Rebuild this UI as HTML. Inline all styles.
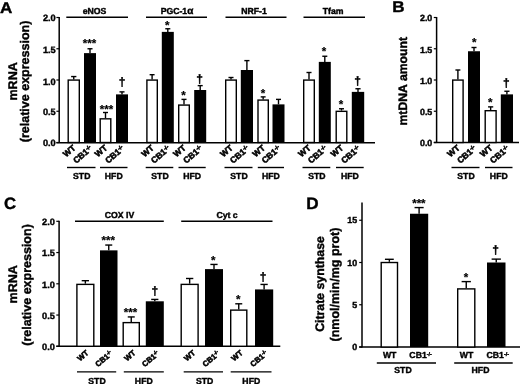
<!DOCTYPE html>
<html><head><meta charset="utf-8"><title>Figure</title>
<style>
html,body{margin:0;padding:0;background:#fff;}
body{width:520px;height:384px;overflow:hidden;}
svg{display:block;}
text{font-family:"Liberation Sans", Arial, sans-serif;font-weight:bold;fill:#000;stroke:#000;stroke-width:0.4px;text-rendering:geometricPrecision;}
text.rl{stroke-width:0.55px;}
text.st{stroke-width:0.2px;}
</style></head><body>
<svg width="520" height="384" viewBox="0 0 520 384">
<rect width="520" height="384" fill="#fff"/>
<text transform="translate(0,12.6) scale(1.1,1)" font-size="15.5" text-anchor="start">A</text>
<line x1="59.20" y1="17.00" x2="59.20" y2="143.00" stroke="#000" stroke-width="1.5"/>
<line x1="56.40" y1="17.50" x2="59.20" y2="17.50" stroke="#000" stroke-width="1.2"/>
<text x="55.70" y="20.71" font-size="9.2" text-anchor="end">2.0</text>
<line x1="56.40" y1="48.75" x2="59.20" y2="48.75" stroke="#000" stroke-width="1.2"/>
<text x="55.70" y="53.01" font-size="9.2" text-anchor="end">1.5</text>
<line x1="56.40" y1="80.00" x2="59.20" y2="80.00" stroke="#000" stroke-width="1.2"/>
<text x="55.70" y="84.51" font-size="9.2" text-anchor="end">1.0</text>
<line x1="56.40" y1="111.25" x2="59.20" y2="111.25" stroke="#000" stroke-width="1.2"/>
<text x="55.70" y="115.21" font-size="9.2" text-anchor="end">0.5</text>
<line x1="56.40" y1="142.50" x2="59.20" y2="142.50" stroke="#000" stroke-width="1.2"/>
<text x="55.70" y="146.21" font-size="9.2" text-anchor="end">0.0</text>
<line x1="56.40" y1="142.70" x2="375.00" y2="142.70" stroke="#000" stroke-width="1.5"/>
<text x="17.20" y="81.40" font-size="12.5" text-anchor="middle" transform="rotate(-90 17.20 81.40)">mRNA</text>
<text x="29.50" y="81.40" font-size="12.5" text-anchor="middle" transform="rotate(-90 29.50 81.40)">(relative expression)</text>
<line x1="66.30" y1="17.20" x2="128.00" y2="17.20" stroke="#000" stroke-width="1.4"/>
<text x="94.60" y="14.20" font-size="8.7" text-anchor="middle">eNOS</text>
<line x1="73.75" y1="79.38" x2="73.75" y2="76.56" stroke="#000" stroke-width="1.4"/>
<line x1="71.12" y1="76.56" x2="76.38" y2="76.56" stroke="#000" stroke-width="1.4"/>
<rect x="68.20" y="80.08" width="11.10" height="62.42" fill="#fff" stroke="#000" stroke-width="1.4"/>
<line x1="90.00" y1="53.12" x2="90.00" y2="48.75" stroke="#000" stroke-width="1.4"/>
<line x1="87.48" y1="48.75" x2="92.52" y2="48.75" stroke="#000" stroke-width="1.4"/>
<rect x="84.00" y="53.12" width="12.00" height="89.38" fill="#000"/>
<text x="89.50" y="47.35" font-size="11.5" text-anchor="middle" class="st">***</text>
<line x1="105.50" y1="118.12" x2="105.50" y2="112.50" stroke="#000" stroke-width="1.4"/>
<line x1="102.98" y1="112.50" x2="108.02" y2="112.50" stroke="#000" stroke-width="1.4"/>
<rect x="100.20" y="118.83" width="10.60" height="23.68" fill="#fff" stroke="#000" stroke-width="1.4"/>
<text x="106.50" y="112.60" font-size="11.5" text-anchor="middle" class="st">***</text>
<line x1="122.00" y1="94.38" x2="122.00" y2="91.88" stroke="#000" stroke-width="1.4"/>
<line x1="119.48" y1="91.88" x2="124.52" y2="91.88" stroke="#000" stroke-width="1.4"/>
<rect x="116.00" y="94.38" width="12.00" height="48.12" fill="#000"/>
<text x="122.00" y="86.38" font-size="12" text-anchor="middle">†</text>
<text x="76.25" y="149.00" font-size="8.5" text-anchor="end" class="rl" transform="rotate(-40 76.25 149.00)">WT</text>
<text x="93.00" y="149.50" font-size="8.5" text-anchor="end" class="rl" transform="rotate(-40 93.00 149.50)">CB1<tspan font-size="62%" dy="-2.8">-/-</tspan></text>
<text x="108.00" y="149.00" font-size="8.5" text-anchor="end" class="rl" transform="rotate(-40 108.00 149.00)">WT</text>
<text x="125.00" y="149.50" font-size="8.5" text-anchor="end" class="rl" transform="rotate(-40 125.00 149.50)">CB1<tspan font-size="62%" dy="-2.8">-/-</tspan></text>
<line x1="67.00" y1="167.50" x2="95.50" y2="167.50" stroke="#000" stroke-width="1.4"/>
<line x1="100.00" y1="167.50" x2="127.50" y2="167.50" stroke="#000" stroke-width="1.4"/>
<text x="81.75" y="179.30" font-size="8.7" text-anchor="middle">STD</text>
<text x="113.75" y="179.30" font-size="8.7" text-anchor="middle">HFD</text>
<line x1="146.00" y1="17.20" x2="207.00" y2="17.20" stroke="#000" stroke-width="1.4"/>
<text x="177.00" y="14.20" font-size="8.7" text-anchor="middle">PGC-1<tspan font-size="115%">α</tspan></text>
<line x1="152.10" y1="79.38" x2="152.10" y2="74.69" stroke="#000" stroke-width="1.4"/>
<line x1="149.62" y1="74.69" x2="154.58" y2="74.69" stroke="#000" stroke-width="1.4"/>
<rect x="146.90" y="80.08" width="10.40" height="62.42" fill="#fff" stroke="#000" stroke-width="1.4"/>
<line x1="167.80" y1="31.88" x2="167.80" y2="28.75" stroke="#000" stroke-width="1.4"/>
<line x1="165.28" y1="28.75" x2="170.32" y2="28.75" stroke="#000" stroke-width="1.4"/>
<rect x="161.80" y="31.88" width="12.00" height="110.62" fill="#000"/>
<text x="167.30" y="29.35" font-size="11.5" text-anchor="middle" class="st">*</text>
<line x1="184.00" y1="104.38" x2="184.00" y2="99.38" stroke="#000" stroke-width="1.4"/>
<line x1="181.48" y1="99.38" x2="186.52" y2="99.38" stroke="#000" stroke-width="1.4"/>
<rect x="178.70" y="105.08" width="10.60" height="37.42" fill="#fff" stroke="#000" stroke-width="1.4"/>
<text x="183.50" y="98.97" font-size="11.5" text-anchor="middle" class="st">*</text>
<line x1="200.20" y1="90.00" x2="200.20" y2="85.62" stroke="#000" stroke-width="1.4"/>
<line x1="197.68" y1="85.62" x2="202.72" y2="85.62" stroke="#000" stroke-width="1.4"/>
<rect x="194.20" y="90.00" width="12.00" height="52.50" fill="#000"/>
<text x="199.70" y="82.92" font-size="12" text-anchor="middle">†</text>
<text x="154.60" y="149.00" font-size="8.5" text-anchor="end" class="rl" transform="rotate(-40 154.60 149.00)">WT</text>
<text x="170.80" y="149.50" font-size="8.5" text-anchor="end" class="rl" transform="rotate(-40 170.80 149.50)">CB1<tspan font-size="62%" dy="-2.8">-/-</tspan></text>
<text x="186.50" y="149.00" font-size="8.5" text-anchor="end" class="rl" transform="rotate(-40 186.50 149.00)">WT</text>
<text x="203.20" y="149.50" font-size="8.5" text-anchor="end" class="rl" transform="rotate(-40 203.20 149.50)">CB1<tspan font-size="62%" dy="-2.8">-/-</tspan></text>
<line x1="145.70" y1="167.50" x2="173.30" y2="167.50" stroke="#000" stroke-width="1.4"/>
<line x1="178.50" y1="167.50" x2="205.70" y2="167.50" stroke="#000" stroke-width="1.4"/>
<text x="160.00" y="179.30" font-size="8.7" text-anchor="middle">STD</text>
<text x="192.10" y="179.30" font-size="8.7" text-anchor="middle">HFD</text>
<line x1="225.50" y1="17.20" x2="286.50" y2="17.20" stroke="#000" stroke-width="1.4"/>
<text x="254.00" y="14.20" font-size="8.7" text-anchor="middle">NRF-1</text>
<line x1="231.00" y1="79.38" x2="231.00" y2="77.50" stroke="#000" stroke-width="1.4"/>
<line x1="228.48" y1="77.50" x2="233.52" y2="77.50" stroke="#000" stroke-width="1.4"/>
<rect x="225.70" y="80.08" width="10.60" height="62.42" fill="#fff" stroke="#000" stroke-width="1.4"/>
<line x1="246.90" y1="70.00" x2="246.90" y2="60.62" stroke="#000" stroke-width="1.4"/>
<line x1="244.34" y1="60.62" x2="249.46" y2="60.62" stroke="#000" stroke-width="1.4"/>
<rect x="240.80" y="70.00" width="12.20" height="72.50" fill="#000"/>
<line x1="263.15" y1="99.38" x2="263.15" y2="96.88" stroke="#000" stroke-width="1.4"/>
<line x1="260.69" y1="96.88" x2="265.61" y2="96.88" stroke="#000" stroke-width="1.4"/>
<rect x="258.00" y="100.08" width="10.30" height="42.42" fill="#fff" stroke="#000" stroke-width="1.4"/>
<text x="262.95" y="96.97" font-size="11.5" text-anchor="middle" class="st">*</text>
<line x1="278.50" y1="104.38" x2="278.50" y2="99.38" stroke="#000" stroke-width="1.4"/>
<line x1="275.98" y1="99.38" x2="281.02" y2="99.38" stroke="#000" stroke-width="1.4"/>
<rect x="272.50" y="104.38" width="12.00" height="38.12" fill="#000"/>
<text x="233.50" y="149.00" font-size="8.5" text-anchor="end" class="rl" transform="rotate(-40 233.50 149.00)">WT</text>
<text x="249.90" y="149.50" font-size="8.5" text-anchor="end" class="rl" transform="rotate(-40 249.90 149.50)">CB1<tspan font-size="62%" dy="-2.8">-/-</tspan></text>
<text x="265.65" y="149.00" font-size="8.5" text-anchor="end" class="rl" transform="rotate(-40 265.65 149.00)">WT</text>
<text x="281.50" y="149.50" font-size="8.5" text-anchor="end" class="rl" transform="rotate(-40 281.50 149.50)">CB1<tspan font-size="62%" dy="-2.8">-/-</tspan></text>
<line x1="224.50" y1="167.50" x2="252.50" y2="167.50" stroke="#000" stroke-width="1.4"/>
<line x1="257.80" y1="167.50" x2="284.00" y2="167.50" stroke="#000" stroke-width="1.4"/>
<text x="239.00" y="179.30" font-size="8.7" text-anchor="middle">STD</text>
<text x="270.90" y="179.30" font-size="8.7" text-anchor="middle">HFD</text>
<line x1="303.50" y1="17.20" x2="365.00" y2="17.20" stroke="#000" stroke-width="1.4"/>
<text x="333.20" y="14.20" font-size="8.7" text-anchor="middle">Tfam</text>
<line x1="309.00" y1="79.38" x2="309.00" y2="72.50" stroke="#000" stroke-width="1.4"/>
<line x1="306.48" y1="72.50" x2="311.52" y2="72.50" stroke="#000" stroke-width="1.4"/>
<rect x="303.70" y="80.08" width="10.60" height="62.42" fill="#fff" stroke="#000" stroke-width="1.4"/>
<line x1="324.80" y1="61.88" x2="324.80" y2="56.25" stroke="#000" stroke-width="1.4"/>
<line x1="322.28" y1="56.25" x2="327.32" y2="56.25" stroke="#000" stroke-width="1.4"/>
<rect x="318.80" y="61.88" width="12.00" height="80.62" fill="#000"/>
<text x="324.00" y="54.55" font-size="11.5" text-anchor="middle" class="st">*</text>
<line x1="341.50" y1="110.62" x2="341.50" y2="108.75" stroke="#000" stroke-width="1.4"/>
<line x1="338.98" y1="108.75" x2="344.02" y2="108.75" stroke="#000" stroke-width="1.4"/>
<rect x="336.20" y="111.33" width="10.60" height="31.18" fill="#fff" stroke="#000" stroke-width="1.4"/>
<text x="341.00" y="108.35" font-size="11.5" text-anchor="middle" class="st">*</text>
<line x1="358.00" y1="91.88" x2="358.00" y2="88.75" stroke="#000" stroke-width="1.4"/>
<line x1="355.40" y1="88.75" x2="360.60" y2="88.75" stroke="#000" stroke-width="1.4"/>
<rect x="351.80" y="91.88" width="12.40" height="50.62" fill="#000"/>
<text x="357.50" y="84.55" font-size="12" text-anchor="middle">†</text>
<text x="311.50" y="149.00" font-size="8.5" text-anchor="end" class="rl" transform="rotate(-40 311.50 149.00)">WT</text>
<text x="327.80" y="149.50" font-size="8.5" text-anchor="end" class="rl" transform="rotate(-40 327.80 149.50)">CB1<tspan font-size="62%" dy="-2.8">-/-</tspan></text>
<text x="344.00" y="149.00" font-size="8.5" text-anchor="end" class="rl" transform="rotate(-40 344.00 149.00)">WT</text>
<text x="361.00" y="149.50" font-size="8.5" text-anchor="end" class="rl" transform="rotate(-40 361.00 149.50)">CB1<tspan font-size="62%" dy="-2.8">-/-</tspan></text>
<line x1="302.50" y1="167.50" x2="330.30" y2="167.50" stroke="#000" stroke-width="1.4"/>
<line x1="336.00" y1="167.50" x2="363.70" y2="167.50" stroke="#000" stroke-width="1.4"/>
<text x="316.90" y="179.30" font-size="8.7" text-anchor="middle">STD</text>
<text x="349.85" y="179.30" font-size="8.7" text-anchor="middle">HFD</text>
<text transform="translate(392.3,12.3) scale(1.1,1)" font-size="15.5" text-anchor="start">B</text>
<line x1="436.60" y1="17.00" x2="436.60" y2="143.00" stroke="#000" stroke-width="1.5"/>
<line x1="433.80" y1="17.50" x2="436.60" y2="17.50" stroke="#000" stroke-width="1.2"/>
<text x="432.30" y="20.60" font-size="8.9" text-anchor="end">2.0</text>
<line x1="433.80" y1="48.75" x2="436.60" y2="48.75" stroke="#000" stroke-width="1.2"/>
<text x="432.30" y="52.90" font-size="8.9" text-anchor="end">1.5</text>
<line x1="433.80" y1="80.00" x2="436.60" y2="80.00" stroke="#000" stroke-width="1.2"/>
<text x="432.30" y="84.30" font-size="8.9" text-anchor="end">1.0</text>
<line x1="433.80" y1="111.25" x2="436.60" y2="111.25" stroke="#000" stroke-width="1.2"/>
<text x="432.30" y="115.10" font-size="8.9" text-anchor="end">0.5</text>
<line x1="433.80" y1="142.50" x2="436.60" y2="142.50" stroke="#000" stroke-width="1.2"/>
<text x="432.30" y="146.00" font-size="8.9" text-anchor="end">0.0</text>
<line x1="433.80" y1="142.50" x2="519.00" y2="142.50" stroke="#000" stroke-width="1.5"/>
<text x="407.50" y="81.20" font-size="12.25" text-anchor="middle" transform="rotate(-90 407.50 81.20)">mtDNA amount</text>
<line x1="457.90" y1="79.38" x2="457.90" y2="70.00" stroke="#000" stroke-width="1.4"/>
<line x1="455.42" y1="70.00" x2="460.38" y2="70.00" stroke="#000" stroke-width="1.4"/>
<rect x="452.70" y="80.08" width="10.40" height="62.42" fill="#fff" stroke="#000" stroke-width="1.4"/>
<line x1="474.00" y1="51.25" x2="474.00" y2="47.50" stroke="#000" stroke-width="1.4"/>
<line x1="471.48" y1="47.50" x2="476.52" y2="47.50" stroke="#000" stroke-width="1.4"/>
<rect x="468.00" y="51.25" width="12.00" height="91.25" fill="#000"/>
<text x="474.20" y="46.40" font-size="11.5" text-anchor="middle" class="st">*</text>
<line x1="490.65" y1="110.00" x2="490.65" y2="106.88" stroke="#000" stroke-width="1.4"/>
<line x1="488.07" y1="106.88" x2="493.23" y2="106.88" stroke="#000" stroke-width="1.4"/>
<rect x="485.20" y="110.70" width="10.90" height="31.80" fill="#fff" stroke="#000" stroke-width="1.4"/>
<text x="490.15" y="106.47" font-size="11.5" text-anchor="middle" class="st">*</text>
<line x1="506.90" y1="94.38" x2="506.90" y2="91.25" stroke="#000" stroke-width="1.4"/>
<line x1="504.34" y1="91.25" x2="509.46" y2="91.25" stroke="#000" stroke-width="1.4"/>
<rect x="500.80" y="94.38" width="12.20" height="48.12" fill="#000"/>
<text x="506.40" y="87.35" font-size="12" text-anchor="middle">†</text>
<text x="460.40" y="149.00" font-size="8.5" text-anchor="end" class="rl" transform="rotate(-40 460.40 149.00)">WT</text>
<text x="477.00" y="149.50" font-size="8.5" text-anchor="end" class="rl" transform="rotate(-40 477.00 149.50)">CB1<tspan font-size="62%" dy="-2.8">-/-</tspan></text>
<text x="493.15" y="149.00" font-size="8.5" text-anchor="end" class="rl" transform="rotate(-40 493.15 149.00)">WT</text>
<text x="509.90" y="149.50" font-size="8.5" text-anchor="end" class="rl" transform="rotate(-40 509.90 149.50)">CB1<tspan font-size="62%" dy="-2.8">-/-</tspan></text>
<line x1="451.50" y1="167.50" x2="479.50" y2="167.50" stroke="#000" stroke-width="1.4"/>
<line x1="485.00" y1="167.50" x2="512.50" y2="167.50" stroke="#000" stroke-width="1.4"/>
<text x="466.00" y="179.30" font-size="8.7" text-anchor="middle">STD</text>
<text x="498.80" y="179.30" font-size="8.7" text-anchor="middle">HFD</text>
<text transform="translate(4.0,208.9) scale(1.02,1)" font-size="16.4" text-anchor="start">C</text>
<line x1="59.10" y1="220.80" x2="59.10" y2="346.80" stroke="#000" stroke-width="1.5"/>
<line x1="56.30" y1="221.30" x2="59.10" y2="221.30" stroke="#000" stroke-width="1.2"/>
<text x="54.80" y="224.61" font-size="9.2" text-anchor="end">2.0</text>
<line x1="56.30" y1="252.55" x2="59.10" y2="252.55" stroke="#000" stroke-width="1.2"/>
<text x="54.80" y="256.46" font-size="9.2" text-anchor="end">1.5</text>
<line x1="56.30" y1="283.80" x2="59.10" y2="283.80" stroke="#000" stroke-width="1.2"/>
<text x="54.80" y="287.81" font-size="9.2" text-anchor="end">1.0</text>
<line x1="56.30" y1="315.05" x2="59.10" y2="315.05" stroke="#000" stroke-width="1.2"/>
<text x="54.80" y="318.76" font-size="9.2" text-anchor="end">0.5</text>
<line x1="56.30" y1="346.30" x2="59.10" y2="346.30" stroke="#000" stroke-width="1.2"/>
<text x="54.80" y="350.41" font-size="9.2" text-anchor="end">0.0</text>
<line x1="56.30" y1="346.30" x2="280.30" y2="346.30" stroke="#000" stroke-width="1.5"/>
<text x="17.30" y="284.30" font-size="12.5" text-anchor="middle" transform="rotate(-90 17.30 284.30)">mRNA</text>
<text x="30.80" y="285.00" font-size="12.5" text-anchor="middle" transform="rotate(-90 30.80 285.00)">(relative expression)</text>
<line x1="75.00" y1="221.30" x2="163.80" y2="221.30" stroke="#000" stroke-width="1.4"/>
<text x="119.50" y="218.30" font-size="8.7" text-anchor="middle">COX IV</text>
<line x1="181.20" y1="221.30" x2="272.50" y2="221.30" stroke="#000" stroke-width="1.4"/>
<text x="227.00" y="218.30" font-size="8.7" text-anchor="middle">Cyt c</text>
<line x1="85.35" y1="283.68" x2="85.35" y2="280.68" stroke="#000" stroke-width="1.4"/>
<line x1="81.69" y1="280.68" x2="89.01" y2="280.68" stroke="#000" stroke-width="1.4"/>
<rect x="76.90" y="284.38" width="16.90" height="61.92" fill="#fff" stroke="#000" stroke-width="1.4"/>
<line x1="108.75" y1="250.36" x2="108.75" y2="245.05" stroke="#000" stroke-width="1.4"/>
<line x1="105.25" y1="245.05" x2="112.25" y2="245.05" stroke="#000" stroke-width="1.4"/>
<rect x="100.00" y="250.36" width="17.50" height="95.94" fill="#000"/>
<text x="108.25" y="243.65" font-size="11.5" text-anchor="middle" class="st">***</text>
<line x1="131.25" y1="321.93" x2="131.25" y2="316.93" stroke="#000" stroke-width="1.4"/>
<line x1="127.75" y1="316.93" x2="134.75" y2="316.93" stroke="#000" stroke-width="1.4"/>
<rect x="123.20" y="322.62" width="16.10" height="23.68" fill="#fff" stroke="#000" stroke-width="1.4"/>
<text x="130.45" y="316.43" font-size="11.5" text-anchor="middle" class="st">***</text>
<line x1="154.80" y1="301.30" x2="154.80" y2="299.43" stroke="#000" stroke-width="1.4"/>
<line x1="151.20" y1="299.43" x2="158.40" y2="299.43" stroke="#000" stroke-width="1.4"/>
<rect x="145.80" y="301.30" width="18.00" height="45.00" fill="#000"/>
<text x="154.80" y="294.73" font-size="12" text-anchor="middle">†</text>
<line x1="189.65" y1="283.68" x2="189.65" y2="278.49" stroke="#000" stroke-width="1.4"/>
<line x1="185.99" y1="278.49" x2="193.31" y2="278.49" stroke="#000" stroke-width="1.4"/>
<rect x="181.20" y="284.38" width="16.90" height="61.92" fill="#fff" stroke="#000" stroke-width="1.4"/>
<line x1="214.00" y1="269.11" x2="214.00" y2="264.43" stroke="#000" stroke-width="1.4"/>
<line x1="210.40" y1="264.43" x2="217.60" y2="264.43" stroke="#000" stroke-width="1.4"/>
<rect x="205.00" y="269.11" width="18.00" height="77.19" fill="#000"/>
<text x="213.20" y="264.23" font-size="11.5" text-anchor="middle" class="st">*</text>
<line x1="238.75" y1="309.43" x2="238.75" y2="303.80" stroke="#000" stroke-width="1.4"/>
<line x1="235.25" y1="303.80" x2="242.25" y2="303.80" stroke="#000" stroke-width="1.4"/>
<rect x="230.70" y="310.12" width="16.10" height="36.17" fill="#fff" stroke="#000" stroke-width="1.4"/>
<text x="238.25" y="302.70" font-size="11.5" text-anchor="middle" class="st">*</text>
<line x1="264.10" y1="289.43" x2="264.10" y2="284.43" stroke="#000" stroke-width="1.4"/>
<line x1="260.46" y1="284.43" x2="267.74" y2="284.43" stroke="#000" stroke-width="1.4"/>
<rect x="255.00" y="289.43" width="18.20" height="56.88" fill="#000"/>
<text x="263.10" y="281.23" font-size="12" text-anchor="middle">†</text>
<text x="89.15" y="353.80" font-size="7.7" text-anchor="end" class="rl" transform="rotate(-40 89.15 353.80)">WT</text>
<text x="113.15" y="354.40" font-size="7.7" text-anchor="end" class="rl" transform="rotate(-40 113.15 354.40)">CB1<tspan font-size="62%" dy="-2.8">-/-</tspan></text>
<text x="136.05" y="353.80" font-size="7.7" text-anchor="end" class="rl" transform="rotate(-40 136.05 353.80)">WT</text>
<text x="159.90" y="354.40" font-size="7.7" text-anchor="end" class="rl" transform="rotate(-40 159.90 354.40)">CB1<tspan font-size="62%" dy="-2.8">-/-</tspan></text>
<text x="195.95" y="353.80" font-size="7.7" text-anchor="end" class="rl" transform="rotate(-40 195.95 353.80)">WT</text>
<text x="220.40" y="354.40" font-size="7.7" text-anchor="end" class="rl" transform="rotate(-40 220.40 354.40)">CB1<tspan font-size="62%" dy="-2.8">-/-</tspan></text>
<text x="243.25" y="353.80" font-size="7.7" text-anchor="end" class="rl" transform="rotate(-40 243.25 353.80)">WT</text>
<text x="268.30" y="354.40" font-size="7.7" text-anchor="end" class="rl" transform="rotate(-40 268.30 354.40)">CB1<tspan font-size="62%" dy="-2.8">-/-</tspan></text>
<line x1="77.00" y1="371.90" x2="116.20" y2="371.90" stroke="#000" stroke-width="1.4"/>
<line x1="123.80" y1="371.90" x2="163.80" y2="371.90" stroke="#000" stroke-width="1.4"/>
<text x="97.00" y="384.00" font-size="8.7" text-anchor="middle">STD</text>
<text x="143.80" y="384.00" font-size="8.7" text-anchor="middle">HFD</text>
<line x1="183.70" y1="371.90" x2="223.00" y2="371.90" stroke="#000" stroke-width="1.4"/>
<line x1="230.70" y1="371.90" x2="271.50" y2="371.90" stroke="#000" stroke-width="1.4"/>
<text x="204.60" y="384.00" font-size="8.7" text-anchor="middle">STD</text>
<text x="251.30" y="384.00" font-size="8.7" text-anchor="middle">HFD</text>
<text transform="translate(306.2,209.4) scale(1.03,1)" font-size="16.6" text-anchor="start">D</text>
<line x1="362.00" y1="202.50" x2="362.00" y2="347.50" stroke="#000" stroke-width="1.5"/>
<line x1="359.20" y1="220.25" x2="362.00" y2="220.25" stroke="#000" stroke-width="1.2"/>
<text x="357.10" y="223.45" font-size="8.9" text-anchor="end">15</text>
<line x1="359.20" y1="262.50" x2="362.00" y2="262.50" stroke="#000" stroke-width="1.2"/>
<text x="357.10" y="265.70" font-size="8.9" text-anchor="end">10</text>
<line x1="359.20" y1="304.75" x2="362.00" y2="304.75" stroke="#000" stroke-width="1.2"/>
<text x="357.10" y="307.95" font-size="8.9" text-anchor="end">5</text>
<line x1="359.20" y1="347.00" x2="362.00" y2="347.00" stroke="#000" stroke-width="1.2"/>
<text x="357.10" y="350.20" font-size="8.9" text-anchor="end">0</text>
<line x1="359.20" y1="347.00" x2="520.00" y2="347.00" stroke="#000" stroke-width="1.5"/>
<text x="323.90" y="284.00" font-size="12.3" text-anchor="middle" transform="rotate(-90 323.90 284.00)">Citrate synthase</text>
<text x="339.00" y="284.60" font-size="12.5" text-anchor="middle" transform="rotate(-90 339.00 284.60)">(nmol/min/mg prot)</text>
<line x1="389.35" y1="261.82" x2="389.35" y2="259.29" stroke="#000" stroke-width="1.4"/>
<line x1="384.93" y1="259.29" x2="393.78" y2="259.29" stroke="#000" stroke-width="1.4"/>
<rect x="381.20" y="262.52" width="16.30" height="84.48" fill="#fff" stroke="#000" stroke-width="1.4"/>
<line x1="419.10" y1="213.74" x2="419.10" y2="207.58" stroke="#000" stroke-width="1.4"/>
<line x1="414.55" y1="207.58" x2="423.65" y2="207.58" stroke="#000" stroke-width="1.4"/>
<rect x="410.00" y="213.74" width="18.20" height="133.26" fill="#000"/>
<text x="418.90" y="207.48" font-size="11.5" text-anchor="middle" class="st">***</text>
<line x1="466.25" y1="288.19" x2="466.25" y2="281.60" stroke="#000" stroke-width="1.4"/>
<line x1="461.62" y1="281.60" x2="470.88" y2="281.60" stroke="#000" stroke-width="1.4"/>
<rect x="457.70" y="288.89" width="17.10" height="58.11" fill="#fff" stroke="#000" stroke-width="1.4"/>
<text x="466.05" y="281.00" font-size="11.5" text-anchor="middle" class="st">*</text>
<line x1="496.25" y1="262.50" x2="496.25" y2="259.12" stroke="#000" stroke-width="1.4"/>
<line x1="491.62" y1="259.12" x2="500.88" y2="259.12" stroke="#000" stroke-width="1.4"/>
<rect x="487.00" y="262.50" width="18.50" height="84.50" fill="#000"/>
<text x="495.65" y="254.12" font-size="12" text-anchor="middle">†</text>
<text x="389.65" y="358.20" font-size="8.7" text-anchor="middle">WT</text>
<text x="420.60" y="358.20" font-size="8.7" text-anchor="middle">CB1<tspan font-size="62%" dy="-2.5">-/-</tspan></text>
<text x="466.55" y="358.20" font-size="8.7" text-anchor="middle">WT</text>
<text x="497.75" y="358.20" font-size="8.7" text-anchor="middle">CB1<tspan font-size="62%" dy="-2.5">-/-</tspan></text>
<line x1="376.80" y1="363.00" x2="436.00" y2="363.00" stroke="#000" stroke-width="1.4"/>
<line x1="454.20" y1="363.00" x2="512.70" y2="363.00" stroke="#000" stroke-width="1.4"/>
<text x="403.00" y="372.50" font-size="8.7" text-anchor="middle">STD</text>
<text x="480.50" y="372.50" font-size="8.7" text-anchor="middle">HFD</text>
</svg>
</body></html>
